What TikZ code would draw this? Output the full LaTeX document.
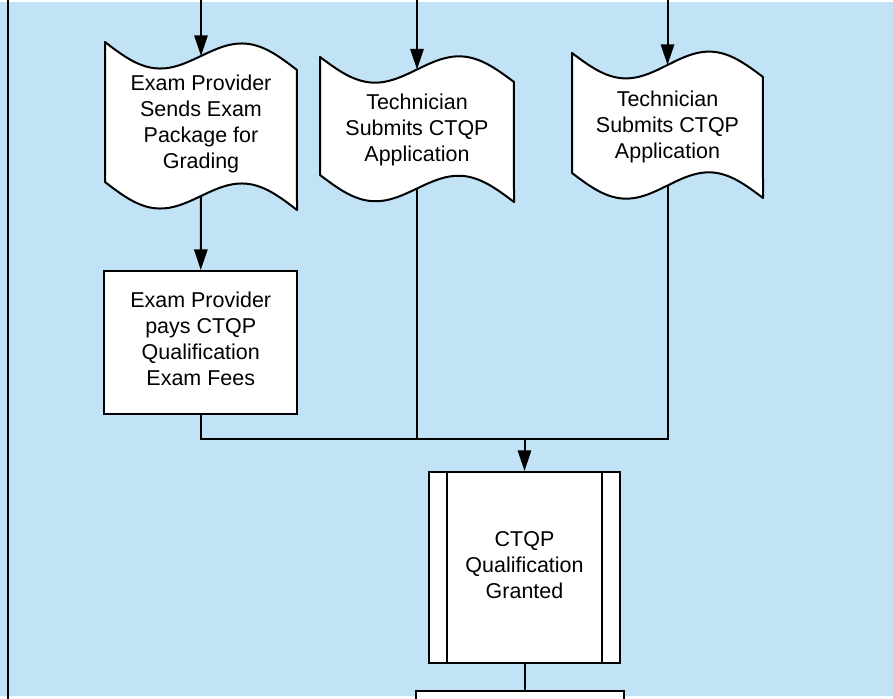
\documentclass[tikz,border=0pt]{standalone}
\usepackage{fontspec}
\setmainfont{Liberation Sans}
\usetikzlibrary{arrows.meta}
\definecolor{lane}{HTML}{C1E3F5}
\newcommand\tapeshape[7]{%
  \filldraw[tape] plot[variable=\u,domain=0:1,samples=61]
    ({#1+(#2-#1)*\u},{#3+(#4-#3)*\u+#7*sin(360*\u)})
    -- plot[variable=\u,domain=1:0,samples=61]
    ({#1+(#2-#1)*\u},{#5+(#6-#5)*\u+#7*sin(360*\u)}) -- cycle;}
\begin{document}
\begin{tikzpicture}[x=0.75pt,y=-0.75pt,line width=1.5pt,
  txt/.style={align=center,font=\fontsize{16.1}{19.5}\selectfont,inner sep=0pt},
  box/.style={draw=black,fill=white,line width=1.5pt,align=center,
    font=\fontsize{16.1}{19.5}\selectfont,inner sep=0pt},
  tape/.style={draw=black,fill=white,line width=1.5pt,line join=round},
  arr/.style={-{Triangle[length=15.5pt,width=10pt]},line width=1.5pt},
  conn/.style={line width=1.5pt}]
\useasboundingbox (0,0) rectangle (893,699);
\fill[white] (0,0) rectangle (893,699);
\fill[lane] (0,2) rectangle (893,696);
\draw[line width=2pt] (8,0) -- (8,699);

% paper-tape shapes
\tapeshape{105}{297}{42}{70}{182}{210}{19}
\tapeshape{320}{514}{57}{82}{175}{202}{19}
\tapeshape{572}{763}{53}{77}{173}{198}{19}

\node[txt] (t1) at (201,123.5) {Exam Provider\\Sends Exam\\Package for\\Grading};
\node[txt] (t2) at (417,130) {Technician\\Submits CTQP\\Application};
\node[txt] (t3) at (667.5,127) {Technician\\Submits CTQP\\Application};

\coordinate (t1in) at (201,56);    \coordinate (t1out) at (201,196);
\coordinate (t2in) at (417,69.5);  \coordinate (t2out) at (417,188.5);
\coordinate (t3in) at (667.5,65);  \coordinate (t3out) at (667.5,185.5);
\coordinate (s1) at (201,0);
\coordinate (s2) at (417,0);
\coordinate (s3) at (667.5,0);

\node[box,minimum width=144.4pt,minimum height=107.6pt,text depth=5.5pt] (r1)
  at (200.75,342.75) {Exam Provider\\pays CTQP\\Qualification\\Exam Fees};

\node[box,minimum width=143.25pt,minimum height=143.25pt,text depth=3.75pt] (proc)
  at (524.5,567.5) {CTQP\\Qualification\\Granted};
\draw ([xshift=14.25pt]proc.north west) -- ([xshift=14.25pt]proc.south west);
\draw ([xshift=-14.25pt]proc.north east) -- ([xshift=-14.25pt]proc.south east);

\node[box,minimum width=156pt,minimum height=45pt] (next) at (520,721) {};

% connectors
\draw[arr] (s1) -- (t1in);
\draw[arr] (s2) -- (t2in);
\draw[arr] (s3) -- (t3in);
\draw[arr] (t1out) -- (r1.north);
\coordinate (j) at (524.5,438.5);
\draw[conn] (r1.south) |- (j) -| (t3out);
\draw[conn] (t2out) -- (t2out |- j);
\draw[arr] (j) -- (proc.north);
\draw[conn] (proc.south) -- (proc.south |- next.north);
\end{tikzpicture}
\end{document}
